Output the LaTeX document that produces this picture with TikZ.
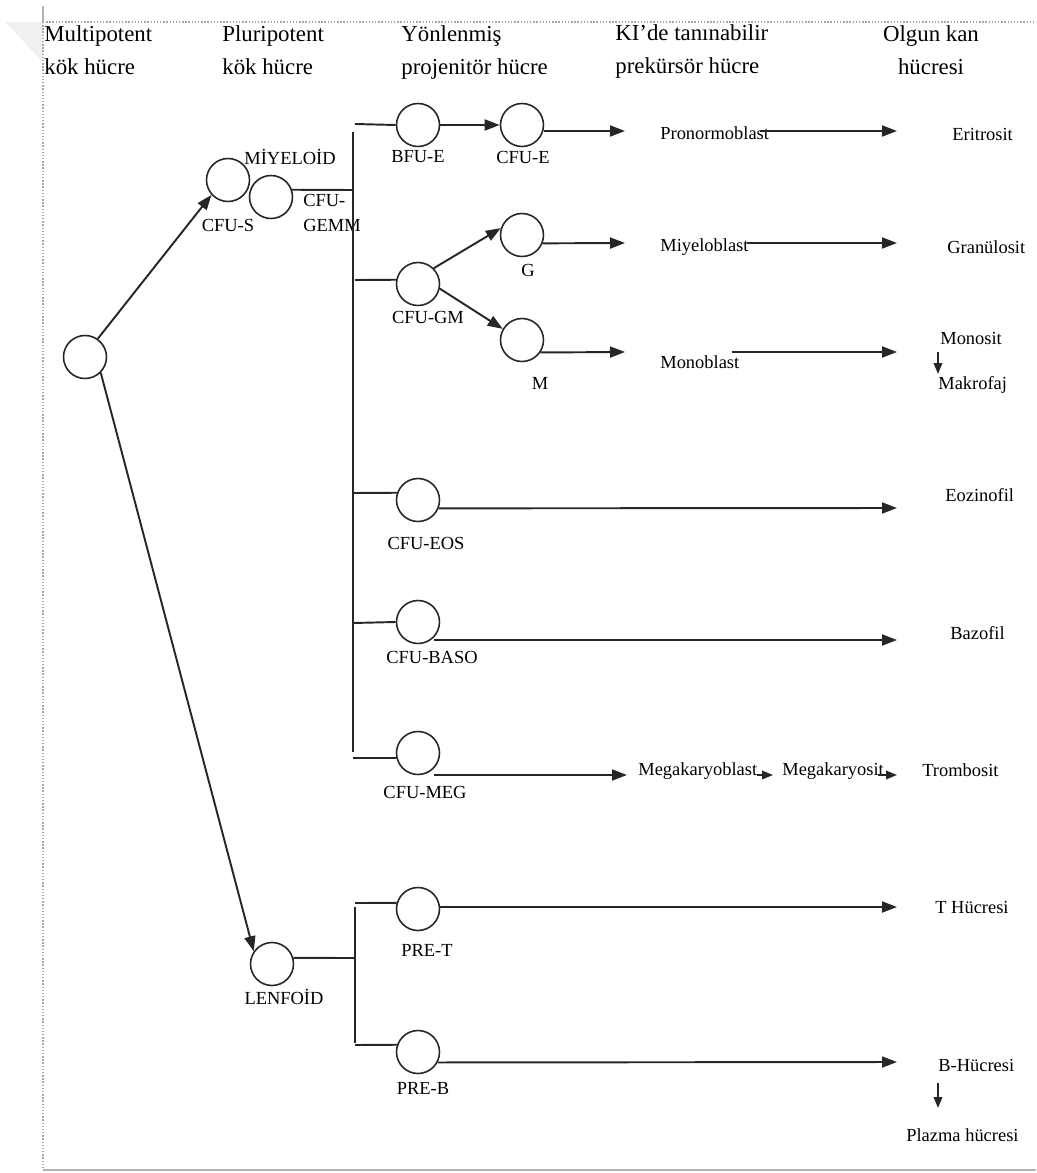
\documentclass[tikz,border=0pt]{standalone}
\usepackage{fontspec}
\setmainfont{Liberation Serif}
\usetikzlibrary{arrows.meta}
\newcommand{\hs}{\vphantom{Öpj}}
\begin{document}
\begin{tikzpicture}[x=0.02cm,y=-0.02cm,
 cell/.style={circle,draw=black!85,line width=0.9pt,minimum size=0.86cm,inner sep=0pt},
 lbl/.style={font=\fontsize{10.5}{12}\selectfont,inner sep=0pt,text=black},
 rt/.style={lbl,anchor=west},
 hdr/.style={font=\fontsize{13}{18.7}\selectfont,align=left,inner sep=0pt,anchor=west},
 ln/.style={line width=1.1pt,draw=black!85},
 arr/.style={ln,-{Triangle[length=0.3cm,width=0.22cm]}},
 sarr/.style={ln,-{Triangle[length=0.22cm,width=0.17cm]}},
 frame/.style={gray!70,densely dotted,line width=0.8pt}
]
\useasboundingbox (0,0) rectangle (1036,1173);
% frame
\fill[gray!12] (5,22) -- (43,22) -- (43,62) -- cycle;
\draw[frame] (43,22) -- (1036,22);
\draw[frame] (43,22) -- (43,1170);
\draw[gray!60,line width=0.8pt] (43,6) -- (43,22);
\draw[gray!60,line width=0.8pt] (43,1170) -- (1036,1170);

% headers
\node[hdr] (h1) at (44,51) {\hs Multipotent\\\hs kök hücre};
\node[hdr] (h2) at (222,51) {\hs Pluripotent\\\hs kök hücre};
\node[hdr] (h3) at (401,51) {\hs Yönlenmiş\\\hs projenitör hücre};
\node[hdr] (h4) at (615,50) {\hs KI’de tanınabilir\\\hs prekürsör hücre};
\node[hdr,align=center,anchor=center] (h5) at (931,51) {\hs Olgun kan\\\hs hücresi};

% cells
\node[cell] (ms) at (85,357) {};
\node[cell] (cfus) at (228,180) {};
\node[cell] (gemm) at (271,197) {};
\node[cell] (bfue) at (418,125) {};
\node[cell] (cfue) at (522,125) {};
\node[cell] (cfugm) at (418,284) {};
\node[cell] (g) at (522,235) {};
\node[cell] (m) at (522,340) {};
\node[cell] (eos) at (418,500) {};
\node[cell] (baso) at (418,622) {};
\node[cell] (meg) at (418,753) {};
\node[cell] (lenf) at (272,964) {};
\node[cell] (pret) at (418,909) {};
\node[cell] (preb) at (418,1052) {};

% cell labels
\node[lbl] (lmy) at (290,157) {MİYELOİD};
\node[lbl] (lcfus) at (228,225) {CFU-S};
\node[lbl,font=\fontsize{10.5}{14.7}\selectfont,align=left,anchor=west] (lgemm) at (303,213) {CFU-\\GEMM};
\node[lbl] (lbfue) at (418,157) {BFU-E};
\node[lbl] (lcfue) at (523,157) {CFU-E};
\node[lbl] (lg) at (528,270) {G};
\node[lbl] (lcfugm) at (428,317) {CFU-GM};
\node[lbl] (lm) at (540,383) {M};
\node[lbl] (leos) at (426,543) {CFU-EOS};
\node[lbl] (lbaso) at (432,657) {CFU-BASO};
\node[lbl] (lmeg) at (425,792) {CFU-MEG};
\node[lbl] (llenf) at (284,997) {LENFOİD};
\node[lbl] (lpret) at (427,950) {PRE-T};
\node[lbl] (lpreb) at (423,1088) {PRE-B};

% right texts
\node[rt] (pron) at (660,133) {Pronormoblast};
\node[rt] (erit) at (952,134) {Eritrosit};
\node[rt] (miyb) at (660,247) {Miyeloblast};
\node[rt] (gran) at (947,247) {Granülosit};
\node[rt] (monb) at (660,362) {Monoblast};
\node[rt] (mons) at (940,338) {Monosit};
\node[rt] (makr) at (938,385) {Makrofaj};
\node[rt] (eozi) at (945,495) {Eozinofil};
\node[rt] (bazo) at (950,633) {Bazofil};
\node[rt] (megb) at (638,771) {Megakaryoblast};
\node[rt] (megs) at (782,771) {Megakaryosit};
\node[rt] (trom) at (922,770) {Trombosit};
\node[rt] (thuc) at (935,907) {T Hücresi};
\node[rt] (bhuc) at (938,1065) {B-Hücresi};
\node[rt] (plaz) at (906,1135) {Plazma hücresi};

% coordinates
\coordinate (ttop) at (353,132);
\coordinate (tbot) at (353,752);
\coordinate (tg) at (353,190);
\coordinate (b1) at (355,124);
\coordinate (b2) at (355,280);
\coordinate (b3) at (353,493);
\coordinate (b4) at (353,623);
\coordinate (b5) at (353,758);
\coordinate (p1) at (625,131);
\coordinate (p1s) at (760,131);
\coordinate (p1e) at (897,131);
\coordinate (p2) at (625,243);
\coordinate (p2s) at (747,243);
\coordinate (p2e) at (897,243);
\coordinate (p3) at (625,352);
\coordinate (p3s) at (732,352);
\coordinate (p3e) at (897,352);
\coordinate (mk1) at (938,352);
\coordinate (mk2) at (938,374);
\coordinate (p4) at (897,508);
\coordinate (p5) at (897,640);
\coordinate (p6) at (627,775);
\coordinate (p6s) at (757,775);
\coordinate (p6e) at (773,775);
\coordinate (p7s) at (878,775);
\coordinate (p7e) at (897,775);
\coordinate (lt) at (355,958);
\coordinate (ltop) at (355,907);
\coordinate (lbot) at (355,1043);
\coordinate (l1) at (355,903);
\coordinate (l2) at (355,1045);
\coordinate (p8) at (897,907);
\coordinate (p9) at (897,1062);
\coordinate (bh1) at (938,1083);
\coordinate (bh2) at (938,1108);

% myeloid connectors
\draw[arr] (ms.55) -- (cfus.222);
\draw[ln] (gemm.19) -- (tg);
\draw[ln] (ttop) -- (tbot);
\draw[ln] (b1) -- (bfue.west);
\draw[arr] (bfue.east) -- (cfue.west);
\draw[arr] (cfue.east |- p1) -- (p1);
\draw[arr] (p1s) -- (p1e);
\draw[ln] (b2) -- (cfugm.169);
\draw[arr] (cfugm.45) -- (g.162);
\draw[arr] (cfugm.-12) -- (m.150);
\draw[arr] (g.-22) -- (p2);
\draw[arr] (p2s) -- (p2e);
\draw[arr] (m.-34) -- (p3);
\draw[arr] (p3s) -- (p3e);
\draw[sarr] (mk1) -- (mk2);
\draw[ln] (b3) -- (eos.161);
\draw[arr] (eos.-22) -- (p4);
\draw[ln] (b4) -- (baso.west);
\draw[arr] (baso.south east |- p5) -- (p5);
\draw[ln] (b5) -- (meg.193);
\draw[arr] (meg.south east |- p6) -- (p6);
\draw[sarr] (p6s) -- (p6e);
\draw[sarr] (p7s) -- (p7e);

% lymphoid connectors
\draw[arr] (ms.-45) -- (lenf.145);
\draw[ln] (lenf.16) -- (lt);
\draw[ln] (ltop) -- (lbot);
\draw[ln] (l1) -- (pret.164);
\draw[ln] (l2) -- (preb.161);
\draw[arr] (pret.east |- p8) -- (p8);
\draw[arr] (preb.-28) -- (p9);
\draw[sarr] (bh1) -- (bh2);
\end{tikzpicture}
\end{document}
